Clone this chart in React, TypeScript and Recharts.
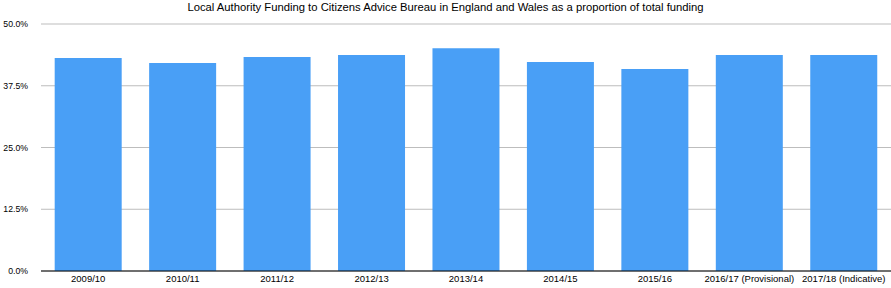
import React from 'react';
import { BarChart, Bar, XAxis, YAxis, CartesianGrid } from 'recharts';

const years = [
  '2009/10',
  '2010/11',
  '2011/12',
  '2012/13',
  '2013/14',
  '2014/15',
  '2015/16',
  '2016/17 (Provisional)',
  '2017/18 (Indicative)',
];
const laShare = [43.1, 42.1, 43.3, 43.7, 45.1, 42.3, 40.9, 43.7, 43.7];
const yTicks = [0, 12.5, 25, 37.5, 50];

const data = years.map((year, i) => ({ year, share: laShare[i] }));

const font = 'Helvetica, Arial, "Liberation Sans", sans-serif';

const App: React.FC = () => {
  return (
    <div style={{ position: 'absolute', left: 0, top: 0, width: 891, height: 288, fontFamily: font }}>
      <div
        style={{
          position: 'absolute',
          top: 1,
          left: 0,
          width: 891,
          textAlign: 'center',
          fontSize: 11.25,
          color: '#000',
        }}
      >
        Local Authority Funding to Citizens Advice Bureau in England and Wales as a proportion of total funding
      </div>
      <BarChart
        width={891}
        height={288}
        data={data}
        margin={{ top: 24, right: 0, bottom: 0, left: 0 }}
        barCategoryGap="14.5%"
      >
        <CartesianGrid vertical={false} stroke="#bdbdbd" />
        <XAxis
          dataKey="year"
          height={17}
          stroke="#000"
          tickLine={false}
          tickSize={0}
          tickMargin={4}
          interval={0}
          tick={{ fill: '#000', fontSize: 9.5, fontFamily: font }}
        />
        <YAxis
          width={41}
          domain={[0, 50]}
          ticks={yTicks}
          axisLine={false}
          tickLine={false}
          tickSize={0}
          tickMargin={13}
          tickFormatter={(v: number) => `${v.toFixed(1)}%`}
          tick={{ fill: '#000', fontSize: 8.7, fontFamily: font }}
        />
        <Bar dataKey="share" fill="#499ff6" isAnimationActive={false} />
      </BarChart>
    </div>
  );
};

export default App;
